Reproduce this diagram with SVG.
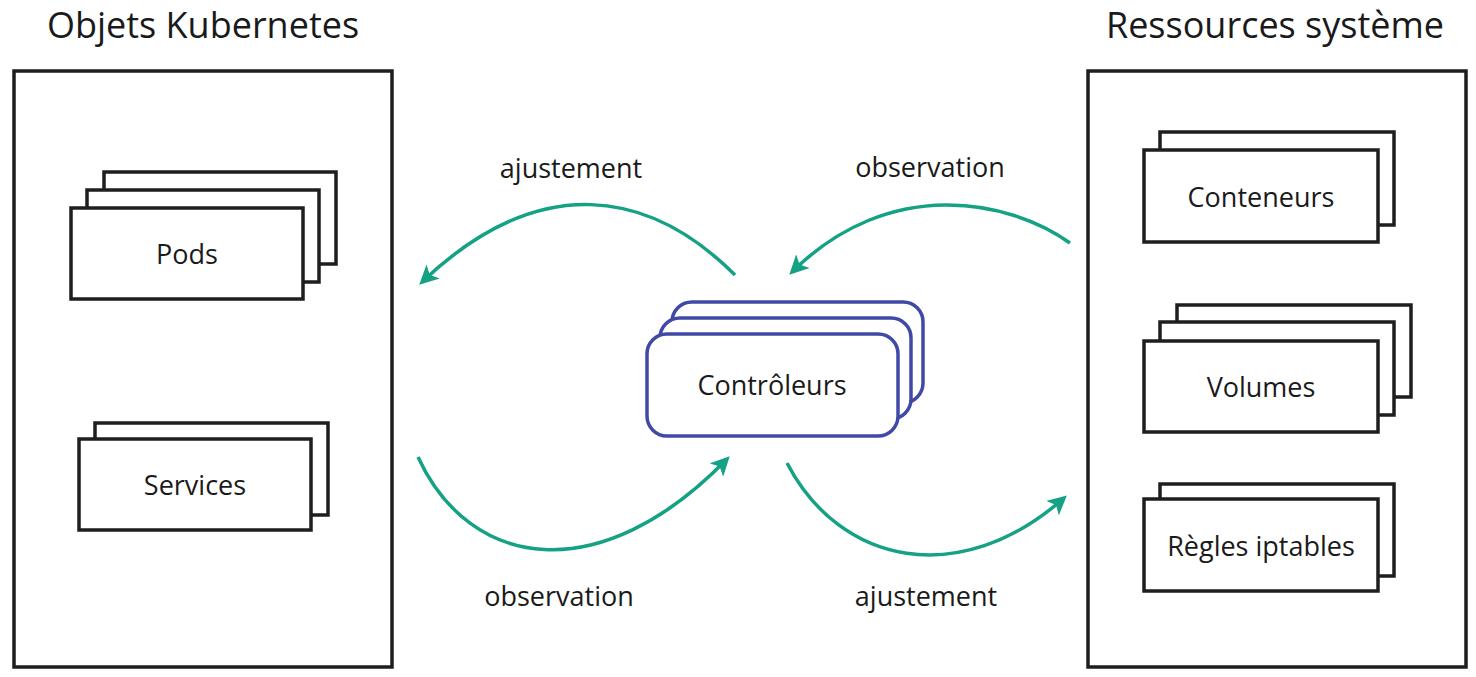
<svg xmlns="http://www.w3.org/2000/svg" width="1476" height="677" viewBox="0 0 1476 677">
<defs>
<style>
text{font-family:"Open Sans","Noto Sans","Liberation Sans",sans-serif;fill:#1a1a1a;text-anchor:middle}
.t{font-size:36px}
.l{font-size:27px}
.frame{fill:#fff;stroke:#1e1e1e;stroke-width:3.5}
.card{fill:#fff;stroke:#1e1e1e;stroke-width:3.5}
.ctl{fill:#fff;stroke:#4049a6;stroke-width:3.5}
.conn{fill:none;stroke:#14a184;stroke-width:3.5}
</style>
<marker id="ah" viewBox="0 0 10 10" refX="8" refY="5" markerWidth="5.5" markerHeight="5.5" orient="auto" markerUnits="strokeWidth">
<path d="M0,0 L10,5 L0,10 L2.5,5 z" fill="#14a184"/>
</marker>
</defs>
<rect width="1476" height="677" fill="#fff"/>
<text class="t" x="203" y="38">Objets Kubernetes</text>
<text class="t" x="1275" y="38">Ressources système</text>
<g id="k8s-objects"><rect class="frame" x="14" y="71" width="378" height="596"/></g>
<g id="system-resources"><rect class="frame" x="1088" y="71" width="378" height="596"/></g>
<g id="pods">
<rect class="card" x="104" y="172" width="232" height="92"/>
<rect class="card" x="87" y="190" width="232" height="92"/>
<rect class="card" x="71" y="208" width="232" height="91"/>
<text class="l" x="187" y="264">Pods</text>
</g>
<g id="services">
<rect class="card" x="95" y="423" width="233" height="92"/>
<rect class="card" x="79" y="439" width="232" height="91"/>
<text class="l" x="195" y="495">Services</text>
</g>
<g id="controllers">
<rect class="ctl" x="672" y="302" width="251" height="101" rx="20"/>
<rect class="ctl" x="660" y="318" width="251" height="101" rx="20"/>
<rect class="ctl" x="647" y="334" width="251" height="102" rx="20"/>
<text class="l" x="772" y="395">Contrôleurs</text>
</g>
<g id="containers">
<rect class="card" x="1160" y="132" width="234" height="93"/>
<rect class="card" x="1144" y="150" width="234" height="92"/>
<text class="l" x="1261" y="207">Conteneurs</text>
</g>
<g id="volumes">
<rect class="card" x="1177" y="305" width="234" height="92"/>
<rect class="card" x="1160" y="322" width="234" height="93"/>
<rect class="card" x="1144" y="341" width="234" height="91"/>
<text class="l" x="1261" y="397">Volumes</text>
</g>
<g id="iptables">
<rect class="card" x="1160" y="484" width="234" height="92"/>
<rect class="card" x="1144" y="499" width="234" height="92"/>
<text class="l" x="1261" y="556">Règles iptables</text>
</g>
<g id="connectors">
<path class="conn" d="M735 275 C650 190,540 170,422 282" marker-end="url(#ah)"/>
<path class="conn" d="M1070 243 C1010 200,890 175,792 272" marker-end="url(#ah)"/>
<path class="conn" d="M418 457 C470 570,600 590,727 459" marker-end="url(#ah)"/>
<path class="conn" d="M787 463 C840 565,960 590,1064 498" marker-end="url(#ah)"/>
<text class="l" x="571" y="178">ajustement</text>
<text class="l" x="930" y="177">observation</text>
<text class="l" x="559" y="606">observation</text>
<text class="l" x="926" y="606">ajustement</text>
</g>
</svg>
